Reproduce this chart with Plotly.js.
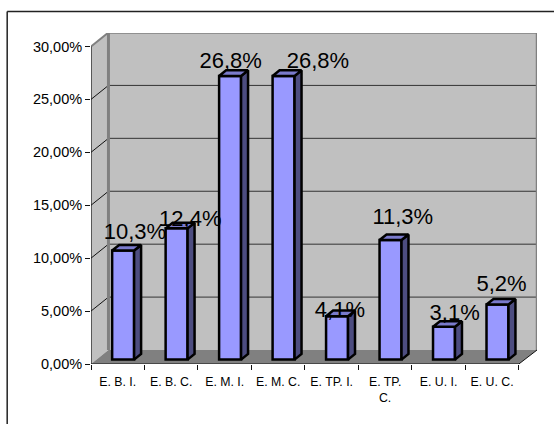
<!DOCTYPE html>
<html><head><meta charset="utf-8">
<script src="https://cdn.plot.ly/plotly-3.0.1.min.js"></script>
<style>html,body{margin:0;padding:0;background:#fff}</style></head>
<body><div id="chart" style="width:554px;height:424px"></div>
<script>
const categories = ['E. B. I.','E. B. C.','E. M. I.','E. M. C.','E. TP. I.','E. TP.<br>C.','E. U. I.','E. U. C.'];
const values = [10.3,12.4,26.8,26.8,4.1,11.3,3.1,5.2];
const labels = ['10,3%','12,4%','26,8%','26,8%','4,1%','11,3%','3,1%','5,2%'];
const yTicks = [0,5,10,15,20,25,30];
const yTickText = ['0,00%','5,00%','10,00%','15,00%','20,00%','25,00%','30,00%'];
// hand-placed data labels in the reference: shift from category centre / bar value, in px
const labelShiftX = [17.2,19.1,6,39.9,8.3,17.7,16.1,9.5];
const labelLift = [10.3,1,6.4,6.4,-2,14.7,5.6,12.4];

// pixel geometry of the pseudo-3D projection, expressed in data units
const L=90.5, R=537.5, T=33, B=364.5;
const pxX=53.6, pxY=10.6;
const depthX=17.5/pxX, depthY=14/pxY;
const xMin=-0.5, xEnd=7.5;
const xMax=xMin+(R-L)/pxX, yMax=(B-T)/pxY;
const barW=22/pxX, bx=5.4/pxX, by=4.4/pxY, sideX=7/pxX, sideY=5.6/pxY;

function seg(x0,y0,x1,y1,color,width,layer){
  return {type:'line',xref:'x',yref:'y',x0,y0,x1,y1,layer:layer||'below',line:{color,width}};
}
function poly(pts,fill){
  return {type:'path',xref:'x',yref:'y',layer:'below',fillcolor:fill,line:{width:0},
    path:'M'+pts.map(p=>p.join(',')).join('L')+'Z'};
}
const shapes=[
  poly([[xMin+depthX,depthY],[xMax,depthY],[xMax,30+depthY],[xMin+depthX,30+depthY]],'#C0C0C0'),
  poly([[xMin,0],[xMin+depthX,depthY],[xMin+depthX,30+depthY],[xMin,30]],'#C0C0C0'),
  poly([[xMin,0],[xEnd,0],[xMax,depthY],[xMin+depthX,depthY]],'#808080')
];
yTicks.slice(1,-1).forEach(t=>{
  shapes.push(seg(xMin+depthX,t+depthY,xMax,t+depthY,'#333333',1));
  shapes.push(seg(xMin,t,xMin+depthX,t+depthY,'#111111',1));
});
shapes.push(seg(xMin+depthX,depthY,xMin+depthX,30+depthY,'#808080',3));
shapes.push(seg(xMin+depthX,30+depthY,xMax,30+depthY,'#808080',2.5));
shapes.push(seg(xMax,depthY,xMax,30+depthY,'#808080',2.5));
shapes.push(seg(xMin,30,xMin+depthX,30+depthY,'#808080',2));
shapes.push(seg(xMin,0,xMin,30,'#111111',1.2,'above'));
shapes.push(seg(xMin,0,xEnd,0,'#111111',1.2,'above'));
shapes.push(seg(xEnd,0,xMax,depthY,'#111111',1,'above'));
// outer frame, running off the right and bottom of the picture
shapes.push({type:'line',xref:'paper',yref:'paper',layer:'above',line:{color:'#222222',width:1.5},
  x0:(6.5-L)/(R-L),x1:(560-L)/(R-L),y0:(B-11.5)/(B-T),y1:(B-11.5)/(B-T)});
shapes.push({type:'line',xref:'paper',yref:'paper',layer:'above',line:{color:'#222222',width:1.5},
  x0:(6.5-L)/(R-L),x1:(6.5-L)/(R-L),y0:(B-11.5)/(B-T),y1:(B-430)/(B-T)});

const idx=categories.map((_,i)=>i);
const frontTrace={type:'bar',x:idx.map(i=>i+bx),y:values,base:idx.map(()=>by),width:barW,
  marker:{color:'#9999FF',line:{color:'#000000',width:2.5}},hoverinfo:'skip',cliponaxis:false};
function faces(fn){
  const xs=[],ys=[];
  values.forEach((v,i)=>{fn(i,v).forEach(p=>{xs.push(p[0]);ys.push(p[1]);});xs.push(null);ys.push(null);});
  return {x:xs,y:ys};
}
const sideFaces=faces((i,v)=>{const r=i+bx+barW/2;return [[r,by],[r+sideX,by+sideY],[r+sideX,by+sideY+v],[r,by+v],[r,by]];});
const topFaces=faces((i,v)=>{const l=i+bx-barW/2,r=l+barW,y=by+v;return [[l,y],[r,y],[r+sideX,y+sideY],[l+sideX,y+sideY],[l,y]];});
const sideTrace={type:'scatter',mode:'lines',x:sideFaces.x,y:sideFaces.y,fill:'toself',fillcolor:'#4D4D80',
  line:{color:'#000000',width:2.5},hoverinfo:'skip'};
const topTrace={type:'scatter',mode:'lines',x:topFaces.x,y:topFaces.y,fill:'toself',fillcolor:'#7A7ACC',
  line:{color:'#000000',width:2.5},hoverinfo:'skip'};
const labelTrace={type:'scatter',mode:'text',x:idx.map(i=>i+labelShiftX[i]/pxX),y:values.map((v,i)=>v+labelLift[i]/pxY),text:labels,
  textposition:'top center',textfont:{family:'Liberation Sans, Arial, sans-serif',size:22,color:'#000000'},
  hoverinfo:'skip',cliponaxis:false};
const tickTrace={type:'scatter',mode:'markers',xaxis:'x2',x:[0],y:[0],marker:{opacity:0},hoverinfo:'skip'};

const baseFont={family:'Liberation Sans, Arial, sans-serif',size:13,color:'#000000'};
const layout={
  width:554,height:424,autosize:false,showlegend:false,
  paper_bgcolor:'#FFFFFF',plot_bgcolor:'rgba(0,0,0,0)',
  margin:{l:L,r:554-R,t:T,b:424-B,pad:0},
  shapes,bargap:0,
  xaxis:{range:[xMin,xMax],tickmode:'array',tickvals:idx,ticktext:categories,ticks:'',showgrid:false,zeroline:false,
    showline:false,fixedrange:true,tickangle:0,tickfont:{...baseFont,size:12.3},ticklen:0,automargin:false,ticklabelstandoff:9},
  xaxis2:{range:[xMin,xMax],overlaying:'x',side:'bottom',tickmode:'array',
    tickvals:[-0.5,0.5,1.5,2.5,3.5,4.5,5.5,6.5,7.5],ticktext:['','','','','','','','',''],
    ticks:'outside',ticklen:5,tickwidth:1,tickcolor:'#111111',showgrid:false,zeroline:false,showline:false,fixedrange:true,anchor:'y'},
  yaxis:{range:[0,yMax],tickmode:'array',tickvals:yTicks,ticktext:yTickText,ticks:'outside',ticklen:5,tickwidth:1,
    tickcolor:'#111111',showgrid:false,zeroline:false,showline:false,fixedrange:true,tickfont:{...baseFont,size:14.5},automargin:false}
};
Plotly.newPlot('chart',[frontTrace,sideTrace,topTrace,labelTrace,tickTrace],layout,{staticPlot:true,displayModeBar:false});
</script></body></html>
